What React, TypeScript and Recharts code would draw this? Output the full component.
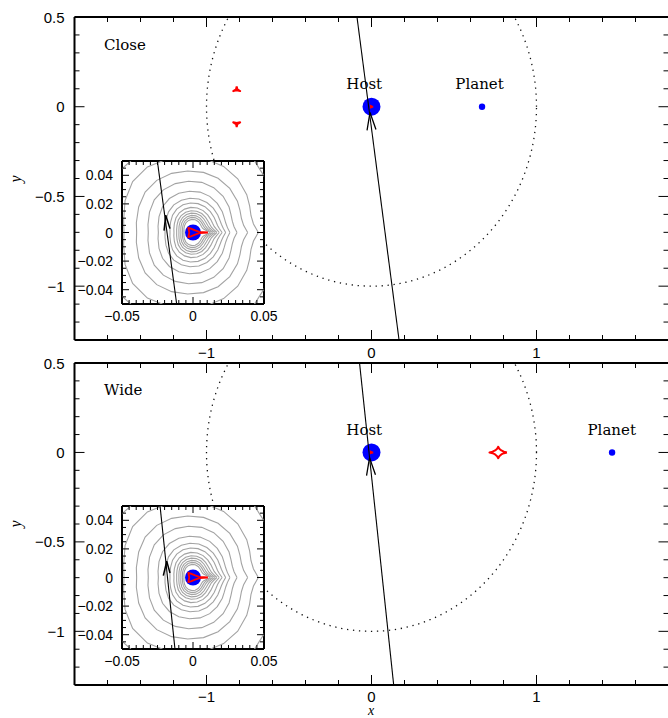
import React from 'react';
import { ScatterChart, Scatter, XAxis, YAxis } from 'recharts';

// ---------------- data ----------------
const MAIN_X_TICKS = [-1.6, -1.4, -1.2, -1, -0.8, -0.6, -0.4, -0.2, 0, 0.2, 0.4, 0.6, 0.8, 1, 1.2, 1.4, 1.6];
const MAIN_X_LABELS = [-1, 0, 1];
const MAIN_Y_TICKS = [0.5, 0.4, 0.3, 0.2, 0.1, 0, -0.1, -0.2, -0.3, -0.4, -0.5, -0.6, -0.7, -0.8, -0.9, -1, -1.1, -1.2];
const MAIN_Y_LABELS = [0.5, 0, -0.5, -1];

const INSET_X_TICKS = [-0.05, -0.045, -0.04, -0.035, -0.03, -0.025, -0.02, -0.015, -0.01, -0.005, 0, 0.005, 0.01, 0.015, 0.02, 0.025, 0.03, 0.035, 0.04, 0.045, 0.05];
const INSET_X_LABELS = [-0.05, 0, 0.05];
const INSET_Y_TICKS = [0.045, 0.04, 0.035, 0.03, 0.025, 0.02, 0.015, 0.01, 0.005, 0, -0.005, -0.01, -0.015, -0.02, -0.025, -0.03, -0.035, -0.04, -0.045];
const INSET_Y_LABELS = [0.04, 0.02, 0, -0.02, -0.04];

const HOST = [{ x: 0, y: 0 }];
const PLANET_CLOSE = [{ x: 0.67, y: 0 }];
const PLANET_WIDE = [{ x: 1.458, y: 0 }];
const EINSTEIN_RADIUS = 1;

const LABELS_CLOSE = [
  { x: -0.044, y: 0.097, text: 'Host', anchor: 'middle' },
  { x: 0.655, y: 0.097, text: 'Planet', anchor: 'middle' },
  { x: -1.621, y: 0.314, text: 'Close', anchor: 'start' },
];
const LABELS_WIDE = [
  { x: -0.044, y: 0.097, text: 'Host', anchor: 'middle' },
  { x: 1.456, y: 0.097, text: 'Planet', anchor: 'middle' },
  { x: -1.621, y: 0.319, text: 'Wide', anchor: 'start' },
];

const TRAJ_CLOSE = [{ x: -0.088, y: 0.5 }, { x: 0.167, y: -1.3 }];
const TRAJ_WIDE = [{ x: -0.0725, y: 0.5 }, { x: 0.1345, y: -1.3 }];
const TRAJ_CLOSE_INSET = [{ x: -0.0251, y: 0.05 }, { x: -0.0115, y: -0.05 }];
const TRAJ_WIDE_INSET = [{ x: -0.0232, y: 0.05 }, { x: -0.0127, y: -0.05 }];

const ARROW_CLOSE = [{ x: -0.027, y: -0.132 }, { x: -0.009, y: -0.032 }, { x: 0.027, y: -0.127 }];
const ARROW_WIDE = [{ x: -0.03, y: -0.13 }, { x: -0.012, y: -0.03 }, { x: 0.024, y: -0.125 }];
const ARROW_CLOSE_INSET = [{ x: -0.0204, y: 0.0013 }, { x: -0.0192, y: 0.0121 }, { x: -0.0162, y: 0.0027 }];
const ARROW_WIDE_INSET = [{ x: -0.0209, y: 0.0013 }, { x: -0.0185, y: 0.0114 }, { x: -0.0162, y: 0.0032 }];

// central caustic, upper half (mirrored below)
const CENTRAL_CAUSTIC_UPPER = [
  [0.0105, 0], [0.0045, 0.0004], [0.0015, 0.0015], [-0.0015, 0.0027], [-0.0033, 0.0033], [-0.003, 0.0015], [-0.0026, 0],
];
// close-topology planetary caustics
const CLOSE_CAUSTIC_TOP = [
  [-0.817, 0.113], [-0.813, 0.097], [-0.796, 0.087], [-0.817, 0.091], [-0.838, 0.087], [-0.821, 0.097], [-0.817, 0.113],
];
const CLOSE_CAUSTIC_BOTTOM = [
  [-0.817, -0.113], [-0.813, -0.097], [-0.796, -0.087], [-0.817, -0.091], [-0.838, -0.087], [-0.821, -0.097], [-0.817, -0.113],
];
// wide-topology planetary caustic
const WIDE_CAUSTIC = [
  [0.821, 0], [0.8024, 0.004], [0.7868, 0.0113], [0.7746, 0.0209], [0.768, 0.032], [0.7614, 0.0209], [0.7492, 0.0113], [0.7336, 0.004],
  [0.715, 0], [0.7336, -0.004], [0.7492, -0.0113], [0.7614, -0.0209], [0.768, -0.032], [0.7746, -0.0209], [0.7868, -0.0113], [0.8024, -0.004], [0.821, 0],
];

// magnification contours: radius at each polar angle (upper half, mirrored)
const CONTOUR_ANGLES = [0, 8, 16, 25, 35, 50, 65, 80, 95, 110, 125, 140, 155, 170, 180];
const CONTOUR_RADII = [
  [0.012, 0.0095, 0.008, 0.0074, 0.0073, 0.0078, 0.0085, 0.009, 0.0092, 0.009, 0.0085, 0.0077, 0.007, 0.0065, 0.0063],
  [0.013, 0.0108, 0.0093, 0.0087, 0.0087, 0.0092, 0.0099, 0.0104, 0.0106, 0.0104, 0.0098, 0.0089, 0.0081, 0.0075, 0.0073],
  [0.0142, 0.012, 0.0106, 0.01, 0.01, 0.0105, 0.0113, 0.0118, 0.012, 0.0118, 0.0112, 0.0103, 0.0094, 0.0087, 0.0085],
  [0.0155, 0.0134, 0.012, 0.0115, 0.0115, 0.0121, 0.0129, 0.0134, 0.0136, 0.0134, 0.0128, 0.0118, 0.0108, 0.0101, 0.0099],
  [0.0168, 0.0148, 0.0135, 0.0131, 0.0132, 0.0138, 0.0146, 0.0151, 0.0153, 0.0151, 0.0145, 0.0135, 0.0124, 0.0117, 0.0115],
  [0.0185, 0.0166, 0.0155, 0.0152, 0.0154, 0.0161, 0.0169, 0.0174, 0.0176, 0.0174, 0.0168, 0.0157, 0.0145, 0.0137, 0.0134],
  [0.0205, 0.0188, 0.018, 0.0179, 0.0182, 0.019, 0.0199, 0.0205, 0.0207, 0.0206, 0.02, 0.0188, 0.0174, 0.0165, 0.0162],
  [0.023, 0.0215, 0.0208, 0.0208, 0.0213, 0.0222, 0.0231, 0.0238, 0.024, 0.024, 0.0236, 0.0225, 0.021, 0.02, 0.0197],
  [0.026, 0.0245, 0.024, 0.0243, 0.0252, 0.0266, 0.0279, 0.0287, 0.029, 0.0292, 0.029, 0.028, 0.0264, 0.025, 0.0244],
  [0.031, 0.0292, 0.0288, 0.0295, 0.031, 0.033, 0.0346, 0.0356, 0.036, 0.0364, 0.0364, 0.0356, 0.0338, 0.0322, 0.0315],
  [0.0385, 0.036, 0.0355, 0.0365, 0.0382, 0.0403, 0.0418, 0.0427, 0.0432, 0.044, 0.0445, 0.044, 0.0422, 0.0405, 0.0397],
  [0.046, 0.043, 0.0425, 0.044, 0.0462, 0.049, 0.051, 0.0522, 0.053, 0.0545, 0.056, 0.0555, 0.0528, 0.0496, 0.0486],
  [0.057, 0.0545, 0.0548, 0.0585, 0.0635, 0.0665, 0.066, 0.065, 0.0648, 0.0655, 0.067, 0.0672, 0.065, 0.0615, 0.0605],
];

// ---------------- helpers ----------------
const FONT_SANS = '"Liberation Sans", Arial, sans-serif';
const FONT_SERIF = '"DejaVu Serif", serif';
const FONT_ITALIC = '"Liberation Serif", "DejaVu Serif", serif';

const near = (list: number[], v: number) => list.some((a) => Math.abs(a - v) < 1e-9);
const fmt = (v: number) => (Math.abs(v) < 1e-12 ? '0' : (v < 0 ? '\u2212' : '') + String(Math.abs(v)));

const pairs = (arr: number[][]) => arr.map(([x, y]) => ({ x, y }));
const mirrorClosed = (upper: number[][]) => {
  const up = pairs(upper);
  const down = up.slice(0, -1).reverse().map((p) => ({ x: p.x, y: -p.y }));
  return [...up, ...down];
};
const contourPoints = (radii: number[]) => {
  const up = CONTOUR_ANGLES.map((a, i) => {
    const t = (a * Math.PI) / 180;
    return { x: radii[i] * Math.cos(t), y: radii[i] * Math.sin(t) };
  });
  const down = up.slice(0, -1).reverse().map((p) => ({ x: p.x, y: -p.y }));
  return [...up, ...down];
};
const ringPoints = () => {
  const pts: { x: number; y: number }[] = [];
  for (let a = 0; a <= 360; a += 1) {
    const t = (a * Math.PI) / 180;
    pts.push({ x: EINSTEIN_RADIUS * Math.cos(t), y: EINSTEIN_RADIUS * Math.sin(t) });
  }
  return pts;
};

const NoShape = () => <g />;
const FRAME = { stroke: '#000', strokeWidth: 2 };

// tick factories
const bottomTick = (labels: number[], majors: number[], majLen: number, minLen: number, fs: number, dy: number) =>
  (p: any) => {
    const v = p.payload.value;
    const len = near(majors, v) ? majLen : minLen;
    return (
      <g>
        <line x1={p.x} y1={p.y} x2={p.x} y2={p.y - len} stroke="#000" strokeWidth={1} />
        {near(labels, v) && (
          <text x={p.x} y={p.y + dy} textAnchor="middle" fontSize={fs} fontFamily={FONT_SANS} fill="#000">
            {fmt(v)}
          </text>
        )}
      </g>
    );
  };
const topTick = (majors: number[], majLen: number, minLen: number) => (p: any) => {
  const v = p.payload.value;
  const len = near(majors, v) ? majLen : minLen;
  return <line x1={p.x} y1={p.y} x2={p.x} y2={p.y + len} stroke="#000" strokeWidth={1} />;
};
const leftTick = (labels: number[], majors: number[], majLen: number, minLen: number, fs: number, dx: number, dy: number) =>
  (p: any) => {
    const v = p.payload.value;
    const len = near(majors, v) ? majLen : minLen;
    return (
      <g>
        <line x1={p.x} y1={p.y} x2={p.x + len} y2={p.y} stroke="#000" strokeWidth={1} />
        {near(labels, v) && (
          <text x={p.x - dx} y={p.y + dy} textAnchor="end" fontSize={fs} fontFamily={FONT_SANS} fill="#000">
            {fmt(v)}
          </text>
        )}
      </g>
    );
  };
const rightTick = (majors: number[], majLen: number, minLen: number) => (p: any) => {
  const v = p.payload.value;
  const len = near(majors, v) ? majLen : minLen;
  return <line x1={p.x} y1={p.y} x2={p.x - len} y2={p.y} stroke="#000" strokeWidth={1} />;
};

const LabelShape = (p: any) => (
  <text x={p.cx} y={p.cy} textAnchor={p.payload.anchor} fontSize={15} fontFamily={FONT_SERIF} fill="#000">
    {p.payload.text}
  </text>
);

// ---------------- panels ----------------
function MainPanel(props: {
  top: number; height: number; axisH: number; labelDy: number; traj: any[]; arrow: any[]; caustics: number[][][];
  planet: any[]; labels: any[];
}) {
  const { top, height, axisH, labelDy, traj, arrow, caustics, planet, labels } = props;
  const ring = ringPoints();
  const central = mirrorClosed(CENTRAL_CAUSTIC_UPPER);
  return (
    <div style={{ position: 'absolute', left: 0, top }}>
      <ScatterChart width={670} height={height} margin={{ top: 16, right: 0, bottom: 0, left: 0 }}>
        <XAxis xAxisId="b" type="number" dataKey="x" domain={[-1.8, 1.8]} allowDataOverflow ticks={MAIN_X_TICKS}
          interval={0} tickSize={0} tickMargin={0} height={axisH} axisLine={FRAME} tickLine={false}
          tick={bottomTick(MAIN_X_LABELS, MAIN_X_LABELS, 10, 5, 15, labelDy)} />
        <XAxis xAxisId="t" orientation="top" type="number" dataKey="x" domain={[-1.8, 1.8]} allowDataOverflow ticks={MAIN_X_TICKS}
          interval={0} tickSize={0} tickMargin={0} height={1} axisLine={FRAME} tickLine={false}
          tick={topTick(MAIN_X_LABELS, 10, 5)} />
        <YAxis yAxisId="l" type="number" dataKey="y" domain={[-1.3, 0.5]} allowDataOverflow ticks={MAIN_Y_TICKS}
          interval={0} tickSize={0} tickMargin={0} width={74.5} axisLine={FRAME} tickLine={false}
          tick={leftTick(MAIN_Y_LABELS, MAIN_Y_LABELS, 10, 5, 15, 10, 5.5)} />
        <YAxis yAxisId="r" orientation="right" type="number" dataKey="y" domain={[-1.3, 0.5]} allowDataOverflow ticks={MAIN_Y_TICKS}
          interval={0} tickSize={0} tickMargin={0} width={1.5} axisLine={false} tickLine={false}
          tick={rightTick(MAIN_Y_LABELS, 10, 5)} />
        <Scatter xAxisId="b" yAxisId="l" data={ring} shape={NoShape} isAnimationActive={false}
          line={{ stroke: '#111', strokeWidth: 1.3, strokeDasharray: '1.3 4.7' }} />
        <Scatter xAxisId="b" yAxisId="l" data={HOST} isAnimationActive={false}
          shape={(p: any) => <circle cx={p.cx} cy={p.cy} r={9} fill="#0000ff" />} />
        <Scatter xAxisId="b" yAxisId="l" data={planet} isAnimationActive={false}
          shape={(p: any) => <circle cx={p.cx} cy={p.cy} r={3.2} fill="#0000ff" />} />
        <Scatter xAxisId="b" yAxisId="l" data={central} shape={NoShape} isAnimationActive={false}
          line={{ stroke: '#ff0000', strokeWidth: 2 }} />
        {caustics.map((c, i) => (
          <Scatter key={i} xAxisId="b" yAxisId="l" data={pairs(c)} shape={NoShape} isAnimationActive={false}
            line={{ stroke: '#ff0000', strokeWidth: 2, strokeLinejoin: 'round' }} />
        ))}
        <Scatter xAxisId="b" yAxisId="l" data={traj} shape={NoShape} isAnimationActive={false}
          line={{ stroke: '#000', strokeWidth: 1.1 }} />
        <Scatter xAxisId="b" yAxisId="l" data={arrow} shape={NoShape} isAnimationActive={false}
          line={{ stroke: '#000', strokeWidth: 1.3 }} />
        <Scatter xAxisId="b" yAxisId="l" data={labels} shape={LabelShape} isAnimationActive={false} />
      </ScatterChart>
    </div>
  );
}

function Inset(props: { plotTop: number; traj: any[]; arrow: any[] }) {
  const { plotTop, traj, arrow } = props;
  const central = mirrorClosed(CENTRAL_CAUSTIC_UPPER);
  return (
    <>
      <div style={{ position: 'absolute', left: 122, top: plotTop, width: 142, height: 143, background: '#fff' }} />
      <div style={{ position: 'absolute', left: 72, top: plotTop - 3 }}>
        <ScatterChart width={215} height={170} margin={{ top: 2, right: 22, bottom: 0, left: 0 }}>
          <XAxis xAxisId="b" type="number" dataKey="x" domain={[-0.05, 0.05]} allowDataOverflow ticks={INSET_X_TICKS}
            interval={0} tickSize={0} tickMargin={0} height={24} axisLine={FRAME} tickLine={false}
            tick={bottomTick(INSET_X_LABELS, INSET_X_LABELS, 7, 4, 14, 16.5)} />
          <XAxis xAxisId="t" orientation="top" type="number" dataKey="x" domain={[-0.05, 0.05]} allowDataOverflow ticks={INSET_X_TICKS}
            interval={0} tickSize={0} tickMargin={0} height={1} axisLine={FRAME} tickLine={false}
            tick={topTick(INSET_X_LABELS, 7, 4)} />
          <YAxis yAxisId="l" type="number" dataKey="y" domain={[-0.05, 0.05]} allowDataOverflow ticks={INSET_Y_TICKS}
            interval={0} tickSize={0} tickMargin={0} width={50} axisLine={FRAME} tickLine={false}
            tick={leftTick(INSET_Y_LABELS, INSET_Y_LABELS, 7, 4, 14, 9, 5)} />
          <YAxis yAxisId="r" orientation="right" type="number" dataKey="y" domain={[-0.05, 0.05]} allowDataOverflow ticks={INSET_Y_TICKS}
            interval={0} tickSize={0} tickMargin={0} width={1} axisLine={FRAME} tickLine={false}
            tick={rightTick(INSET_Y_LABELS, 7, 4)} />
          {CONTOUR_RADII.map((r, i) => (
            <Scatter key={i} xAxisId="b" yAxisId="l" data={contourPoints(r)} shape={NoShape} isAnimationActive={false}
              line={{ stroke: '#a3a3a3', strokeWidth: 1.1 }} />
          ))}
          <Scatter xAxisId="b" yAxisId="l" data={HOST} isAnimationActive={false}
            shape={(p: any) => <circle cx={p.cx} cy={p.cy} r={8} fill="#0000ff" />} />
          <Scatter xAxisId="b" yAxisId="l" data={central} shape={NoShape} isAnimationActive={false}
            line={{ stroke: '#ff0000', strokeWidth: 1.8, strokeLinejoin: 'round' }} />
          <Scatter xAxisId="b" yAxisId="l" data={traj} shape={NoShape} isAnimationActive={false}
            line={{ stroke: '#000', strokeWidth: 1.1 }} />
          <Scatter xAxisId="b" yAxisId="l" data={arrow} shape={NoShape} isAnimationActive={false}
            line={{ stroke: '#000', strokeWidth: 1.5 }} />
        </ScatterChart>
      </div>
    </>
  );
}

export default function App() {
  return (
    <div style={{ position: 'absolute', left: 0, top: 0, width: 668, height: 718, overflow: 'hidden', background: '#fff' }}>
      <MainPanel top={0} height={362} axisH={22} labelDy={18} traj={TRAJ_CLOSE} arrow={ARROW_CLOSE}
        caustics={[CLOSE_CAUSTIC_TOP, CLOSE_CAUSTIC_BOTTOM]} planet={PLANET_CLOSE} labels={LABELS_CLOSE} />
      <MainPanel top={346} height={372} axisH={33} labelDy={16.5} traj={TRAJ_WIDE} arrow={ARROW_WIDE}
        caustics={[WIDE_CAUSTIC]} planet={PLANET_WIDE} labels={LABELS_WIDE} />
      <Inset plotTop={161} traj={TRAJ_CLOSE_INSET} arrow={ARROW_CLOSE_INSET} />
      <Inset plotTop={506} traj={TRAJ_WIDE_INSET} arrow={ARROW_WIDE_INSET} />
      <svg width={668} height={718} style={{ position: 'absolute', left: 0, top: 0, pointerEvents: 'none' }}>
        <text x={0} y={0} transform="translate(21,179) rotate(-90)" textAnchor="middle" fontSize={16}
          fontStyle="italic" fontFamily={FONT_ITALIC} fill="#000">y</text>
        <text x={0} y={0} transform="translate(21,524) rotate(-90)" textAnchor="middle" fontSize={16}
          fontStyle="italic" fontFamily={FONT_ITALIC} fill="#000">y</text>
        <text x={371} y={715} textAnchor="middle" fontSize={14} fontStyle="italic" fontFamily={FONT_ITALIC} fill="#000">x</text>
      </svg>
    </div>
  );
}
